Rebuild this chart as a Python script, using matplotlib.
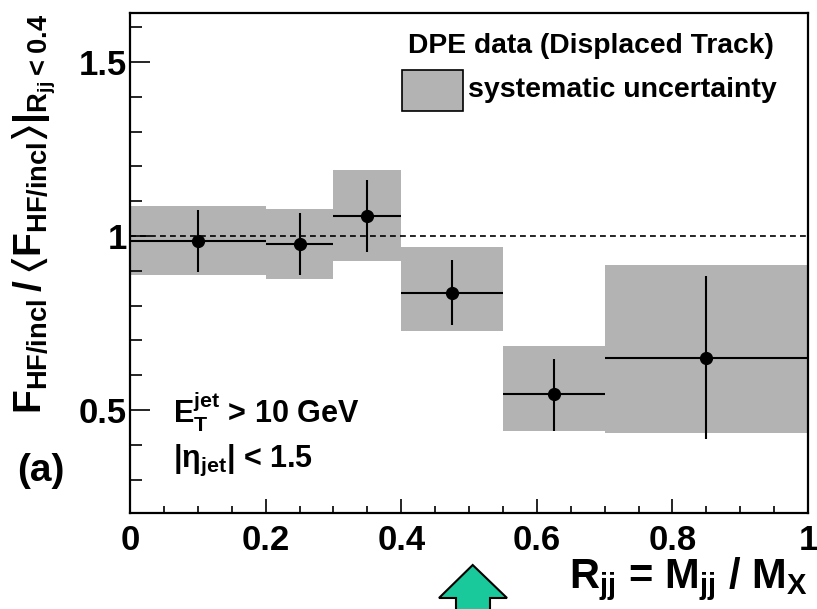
import numpy as np
import matplotlib
matplotlib.use('Agg')
import matplotlib.pyplot as plt
from matplotlib.patches import Rectangle, Polygon
from matplotlib.ticker import MultipleLocator, FormatStrFormatter

plt.rcParams['font.family'] = ['Liberation Sans', 'DejaVu Sans']
plt.rcParams['font.weight'] = 'bold'
plt.rcParams['mathtext.default'] = 'regular'

# R_jj bins and measured ratio
bin_lo = [0.0, 0.2, 0.3, 0.4, 0.55, 0.7]
bin_hi = [0.2, 0.3, 0.4, 0.55, 0.7, 1.0]
x_pts = [0.1, 0.25, 0.35, 0.475, 0.625, 0.85]
y_pts = [0.987, 0.976, 1.057, 0.837, 0.545, 0.650]
err_up = [1.075, 1.065, 1.160, 0.931, 0.646, 0.885]
err_dn = [0.897, 0.888, 0.955, 0.744, 0.441, 0.416]
# systematic band
sys_hi = [1.087, 1.078, 1.190, 0.969, 0.685, 0.917]
sys_lo = [0.888, 0.876, 0.928, 0.727, 0.441, 0.435]

bin_lo = np.array(bin_lo); bin_hi = np.array(bin_hi)
x_pts = np.array(x_pts); y_pts = np.array(y_pts)
err_up = np.array(err_up); err_dn = np.array(err_dn)
sys_hi = np.array(sys_hi); sys_lo = np.array(sys_lo)

W, H = 817, 609
fig = plt.figure(figsize=(W/100., H/100.), dpi=100)
ax = fig.add_axes([130./W, 96./H, 678./W, 500./H])

grey = '#b3b3b3'
ax.bar(bin_lo, sys_hi - sys_lo, width=bin_hi - bin_lo, bottom=sys_lo,
       align='edge', color=grey, lw=0, zorder=1)
ax.axhline(1.0, color='k', lw=1.2, ls=(0, (3.5, 2.5)), zorder=2)
ax.errorbar(x_pts, y_pts, xerr=[x_pts - bin_lo, bin_hi - x_pts],
            yerr=[y_pts - err_dn, err_up - y_pts], fmt='o', color='k',
            ms=8.5, lw=1.5, capsize=0, zorder=3)

ax.set_xlim(0, 1)
ax.set_ylim(0.204, 1.641)
ax.xaxis.set_major_locator(MultipleLocator(0.2))
ax.xaxis.set_minor_locator(MultipleLocator(0.05))
ax.yaxis.set_major_locator(MultipleLocator(0.5))
ax.yaxis.set_minor_locator(MultipleLocator(0.1))
ax.xaxis.set_major_formatter(FormatStrFormatter('%g'))
ax.yaxis.set_major_formatter(FormatStrFormatter('%g'))
ax.tick_params(axis='both', which='both', direction='in', top=False, right=False,
               width=1.2, labelsize=25)
ax.tick_params(axis='x', which='major', length=10, pad=8)
ax.tick_params(axis='x', which='minor', length=5)
ax.tick_params(axis='y', which='major', length=14.5, pad=2)
ax.tick_params(axis='y', which='minor', length=8.5)
for s in ax.spines.values():
    s.set_linewidth(1.6)

# axis titles
ax.set_xlabel(r'$R_{jj}$ = $M_{jj}$ / $M_{X}$', fontsize=30, fontweight='bold', loc='right')
ax.xaxis.set_label_coords(1.0, -0.085)
fig.text(10./W, 1 - 14./H,
         r'$F_{HF/incl}\,/\,$' + r'$\langle$' + r'$F_{HF/incl}$' + r'$\rangle|_{R_{jj}<0.4}$',
         rotation=90, ha='left', va='top', fontsize=28, fontweight='bold')

# legend
ax.text(0.410, 0.934, 'DPE data (Displaced Track)', transform=ax.transAxes,
        fontsize=20.3, fontweight='bold', va='center', ha='left')
ax.add_patch(Rectangle((0.401, 0.804), 0.090, 0.082, transform=ax.transAxes,
                       facecolor=grey, edgecolor='k', lw=1.2, zorder=4))
ax.text(0.499, 0.846, 'systematic uncertainty', transform=ax.transAxes,
        fontsize=20.5, fontweight='bold', va='center', ha='left')

# cuts
ax.text(0.063, 0.18, r'$E_T^{jet}$ > 10 GeV', transform=ax.transAxes,
        fontsize=22, fontweight='bold', va='baseline', ha='left')
ax.text(0.063, 0.092, r'$|\eta_{jet}|$ < 1.5', transform=ax.transAxes,
        fontsize=22, fontweight='bold', va='baseline', ha='left')
ax.text(-0.167, 0.084, '(a)', transform=ax.transAxes, fontsize=28,
        fontweight='bold', va='center', ha='left')

# green arrow below axis
arrow_px = [(472.7, 565), (439, 598), (456, 598), (456, 615), (490, 615),
            (490, 598), (507, 598)]
arrow = Polygon([(px/W, 1 - py/H) for px, py in arrow_px], closed=True,
                transform=fig.transFigure, facecolor='#19c99b', edgecolor='k', lw=1.5)
fig.patches.append(arrow)

fig.savefig('out.png', dpi=100)
